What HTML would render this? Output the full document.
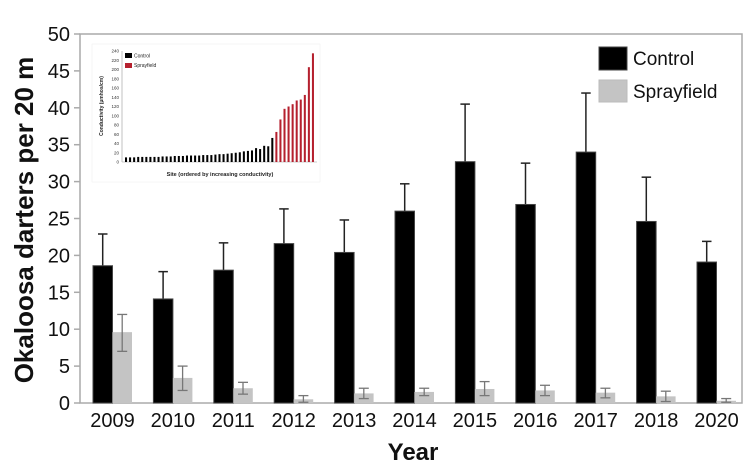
<!DOCTYPE html>
<html><head><meta charset="utf-8"><style>
body{margin:0;background:#fff;}
svg{display:block;font-family:"Liberation Sans",sans-serif;}
</style></head><body>
<svg id="s" width="750" height="475" xmlns="http://www.w3.org/2000/svg">
<rect x="0" y="0" width="750" height="475" fill="#fff"/>
<g id="g"></g>
<text transform="translate(33,220) rotate(-90)" text-anchor="middle" font-size="26" font-weight="bold" fill="#111">Okaloosa darters per 20 m</text>
<text x="413" y="460" text-anchor="middle" font-size="24" font-weight="bold" fill="#111">Year</text>
<rect x="599" y="47" width="28" height="23" fill="#000" stroke="#444"/>
<text x="633" y="65" font-size="19" fill="#111">Control</text>
<rect x="599" y="80" width="28" height="22" fill="#c4c4c4" stroke="#bbb"/>
<text x="633" y="98" font-size="19" fill="#111">Sprayfield</text>
</svg>
<script>
var g=document.getElementById('g'),h='';
var X0=80,X1=742,Y0=403,Y50=34,k=(Y0-Y50)/50;
function y(v){return Y0-v*k;}
h+='<rect x="'+X0+'" y="'+Y50+'" width="'+(X1-X0)+'" height="'+(Y0-Y50)+'" fill="none" stroke="#aaa" stroke-width="1.5"/>';
for(var i=0;i<=10;i++){var v=i*5,yy=y(v);h+='<line x1="74" x2="80" y1="'+yy+'" y2="'+yy+'" stroke="#aaa" stroke-width="1.5"/><text x="70" y="'+(yy+7)+'" text-anchor="end" font-size="20" fill="#111">'+v+'</text>';}
var yrs=['2009','2010','2011','2012','2013','2014','2015','2016','2017','2018','2020'];
var c=[18.6,14.1,18,21.6,20.4,26,32.7,26.9,34,24.6,19.1],ce=[22.9,17.8,21.7,26.3,24.8,29.7,40.5,32.5,42,30.6,21.9];
var s=[9.6,3.4,2,0.5,1.3,1.5,1.9,1.7,1.4,0.9,0.3],sl=[7,1.7,1.2,0.1,0.6,1,1,1,0.7,0.2,0.1],sh=[12,5,2.8,1,2,2,2.9,2.4,2,1.6,0.6];
for(var i=0;i<11;i++){var x=93+i*60.4;
h+='<line x1="'+(x+9.7)+'" x2="'+(x+9.7)+'" y1="'+y(ce[i])+'" y2="'+y(c[i])+'" stroke="#222" stroke-width="1.5"/><line x1="'+(x+5)+'" x2="'+(x+14.5)+'" y1="'+y(ce[i])+'" y2="'+y(ce[i])+'" stroke="#222" stroke-width="1.5"/>';
h+='<rect x="'+x+'" y="'+y(c[i])+'" width="19.5" height="'+(Y0-y(c[i]))+'" fill="#000" stroke="#444"/>';
h+='<rect x="'+(x+19.5)+'" y="'+y(s[i])+'" width="19.5" height="'+(Y0-y(s[i]))+'" fill="#c4c4c4"/>';
var mx=x+29.2;h+='<line x1="'+mx+'" x2="'+mx+'" y1="'+y(sh[i])+'" y2="'+y(sl[i])+'" stroke="#777" stroke-width="1.3"/><line x1="'+(mx-5)+'" x2="'+(mx+5)+'" y1="'+y(sh[i])+'" y2="'+y(sh[i])+'" stroke="#777" stroke-width="1.3"/><line x1="'+(mx-5)+'" x2="'+(mx+5)+'" y1="'+y(sl[i])+'" y2="'+y(sl[i])+'" stroke="#777" stroke-width="1.3"/>';
h+='<text x="'+(x+19.5)+'" y="427" text-anchor="middle" font-size="20" fill="#111">'+yrs[i]+'</text>';}
// inset
h+='<rect x="92" y="44" width="228" height="138" fill="#fff" stroke="#eee" stroke-width="0.5"/>';
var ix0=122,ix1=317,iy0=162,iy1=51,ik=(iy0-iy1)/240;
h+='<line x1="'+ix0+'" x2="'+ix0+'" y1="'+iy1+'" y2="'+iy0+'" stroke="#999" stroke-width="0.6"/><line x1="'+ix0+'" x2="'+ix1+'" y1="'+iy0+'" y2="'+iy0+'" stroke="#999" stroke-width="0.6"/>';
for(var v=0;v<=240;v+=20){var yy=iy0-v*ik;h+='<text x="'+(ix0-3)+'" y="'+(yy+1.5)+'" text-anchor="end" font-size="4.5" fill="#333">'+v+'</text>';}
var iv=[10,10,10,11,11,11,11,11,11,12,12,12,13,13,13,14,14,14,14,15,15,15,16,17,17,18,19,20,21,23,24,25,30,28,35,34,52,65,92,115,120,125,133,135,145,205,235];
var n=iv.length,sw=(ix1-ix0-4)/n;
for(var i=0;i<n;i++){var xx=ix0+3+i*sw,hh=iv[i]*ik;h+='<rect x="'+xx+'" y="'+(iy0-hh)+'" width="'+(sw*0.5)+'" height="'+hh+'" fill="'+(i>=37?'#b5202e':'#000')+'"/>';}
h+='<rect x="125" y="53" width="7" height="5" fill="#000"/><text x="134" y="57.5" font-size="5" fill="#222">Control</text>';
h+='<rect x="125" y="63" width="7" height="5" fill="#b5202e"/><text x="134" y="67" font-size="5" fill="#222">Sprayfield</text>';
h+='<text transform="translate(103,106) rotate(-90)" text-anchor="middle" font-size="5" font-weight="bold" fill="#222">Conductivity (µmhos/cm)</text>';
h+='<text x="220" y="176" text-anchor="middle" font-size="5.5" font-weight="bold" fill="#222">Site (ordered by increasing conductivity)</text>';
g.innerHTML=h;
</script>
</body></html>
